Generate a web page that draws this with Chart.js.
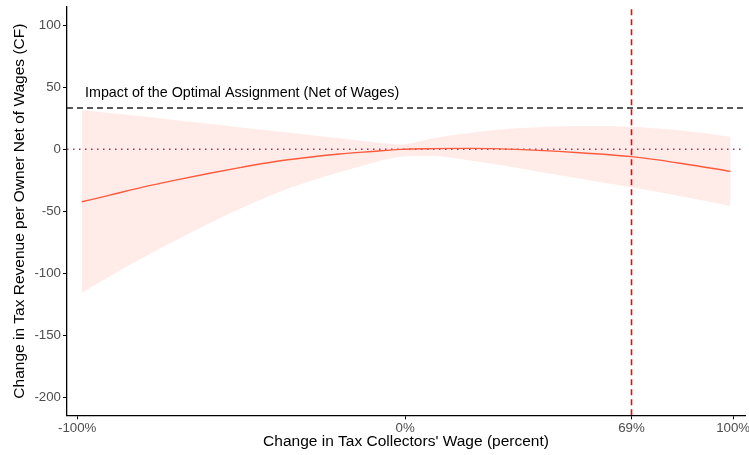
<!DOCTYPE html>
<html>
<head>
<meta charset="utf-8">
<script src="https://cdn.jsdelivr.net/npm/chart.js@4.4.1/dist/chart.umd.min.js"></script>
<style>
  html, body { margin: 0; padding: 0; background: #ffffff; }
  canvas { display: block; }
</style>
</head>
<body>
<canvas id="c" width="749" height="455"></canvas>
<script>
// ---- data ----
const wageChange = [-98.6, -90, -80, -70, -60, -50, -40, -30, -20, -10, -1.5, 8.6, 18.8, 29, 39, 54.3, 69, 84.8, 99.2];
const estimate   = [-42.3, -36.9, -30.5, -24.8, -19.5, -14.5, -10.0, -6.6, -3.8, -1.7, 0.0, 0.6, 0.8, 0.4, -0.6, -2.9, -5.9, -11.6, -17.8];
const upperCI    = [31.7, 29.3, 26.6, 23.5, 20.6, 17.7, 14.7, 11.8, 8.9, 5.9, 4.0, 8.9, 12.9, 16.1, 17.7, 18.8, 18.3, 15.0, 10.2];
const lowerCI    = [-115.6, -102.3, -87.5, -73.5, -60.0, -47.5, -36.0, -26.5, -18.5, -11.0, -6.0, -5.4, -8.6, -12.7, -17.2, -24.2, -30.6, -38.2, -45.7];
const optimalImpact = 33.3;       // dashed black reference
const zeroLine = 0;               // dotted reference
const optimalWage = 69;           // dashed red vertical
const annotationText = "Impact of the Optimal Assignment (Net of Wages)";
const annotationPos = { x: -97.6, y: 45 };
const xTicks = [-100, 0, 69, 100];
const yTicks = [-200, -150, -100, -50, 0, 50, 100];
const xRange = [-103.1, 103.6];
const yRange = [-214.5, 114.8];

const pts = (ys) => wageChange.map((x, i) => ({ x: x, y: ys[i] }));
const FONT = '"Liberation Sans", Arial, sans-serif';

const annotationPlugin = {
  id: 'annot',
  afterDatasetsDraw(chart) {
    const { ctx, scales } = chart;
    ctx.save();
    ctx.font = '14.3px ' + FONT;
    ctx.fillStyle = '#000000';
    ctx.textAlign = 'left';
    ctx.textBaseline = 'middle';
    ctx.fillText(annotationText, scales.x.getPixelForValue(annotationPos.x), scales.y.getPixelForValue(annotationPos.y));
    ctx.restore();
  }
};

new Chart(document.getElementById('c'), {
  type: 'line',
  data: {
    datasets: [
      { label: 'upper', data: pts(upperCI), borderWidth: 0, borderColor: 'rgba(0,0,0,0)', pointRadius: 0,
        backgroundColor: 'rgba(255,200,190,0.35)', fill: '+1', cubicInterpolationMode: 'monotone' },
      { label: 'lower', data: pts(lowerCI), borderWidth: 0, borderColor: 'rgba(0,0,0,0)', pointRadius: 0,
        fill: false, cubicInterpolationMode: 'monotone' },
      { label: 'vline', data: [{ x: optimalWage, y: yRange[0] }, { x: optimalWage, y: yRange[1] }],
        borderColor: '#FF0000', borderWidth: 1.6, borderDash: [6, 4], pointRadius: 0, fill: false },
      { label: 'estimate', data: pts(estimate), borderColor: '#FF5A3C', borderWidth: 1.4, pointRadius: 0,
        fill: false, cubicInterpolationMode: 'monotone' },
      { label: 'optimal', data: [{ x: xRange[0], y: optimalImpact }, { x: xRange[1], y: optimalImpact }],
        borderColor: '#222222', borderWidth: 1.6, borderDash: [6, 4], pointRadius: 0, fill: false },
      { label: 'zero', data: [{ x: xRange[0], y: zeroLine }, { x: xRange[1], y: zeroLine }],
        borderColor: '#A8305E', borderWidth: 1.5, borderDash: [1.5, 4.5], pointRadius: 0, fill: false }
    ]
  },
  options: {
    responsive: false,
    animation: false,
    events: [],
    layout: { padding: { top: 7, right: 4, bottom: 0, left: 0 } },
    plugins: {
      legend: { display: false },
      tooltip: { enabled: false },
      filler: { drawTime: 'beforeDatasetsDraw' }
    },
    scales: {
      x: {
        type: 'linear',
        min: xRange[0], max: xRange[1],
        afterBuildTicks: (s) => { s.ticks = xTicks.map(v => ({ value: v })); },
        afterFit: (s) => { s.height = 39.7; s.paddingLeft = 0; s.paddingRight = 0; },
        ticks: {
          callback: (v) => String(v) + '%',
          color: '#4D4D4D',
          font: { family: FONT, size: 13.3 },
          padding: 1,
          maxRotation: 0,
          autoSkip: false
        },
        grid: { drawOnChartArea: false, drawTicks: true, tickLength: 4, color: '#000000', lineWidth: 1 },
        border: { display: true, color: '#000000', width: 1.3 },
        title: {
          display: true,
          text: "Change in Tax Collectors' Wage (percent)",
          color: '#000000',
          font: { family: FONT, size: 15.5 },
          padding: { top: 0, bottom: 4 }
        }
      },
      y: {
        type: 'linear',
        min: yRange[0], max: yRange[1],
        afterBuildTicks: (s) => { s.ticks = yTicks.map(v => ({ value: v })); },
        afterFit: (s) => { s.width = 67; s.paddingTop = 0; s.paddingBottom = 0; },
        ticks: {
          callback: (v) => String(v),
          color: '#4D4D4D',
          font: { family: FONT, size: 13.3 },
          padding: 2,
          autoSkip: false
        },
        grid: { drawOnChartArea: false, drawTicks: true, tickLength: 4, color: '#000000', lineWidth: 1 },
        border: { display: true, color: '#000000', width: 1.3 },
        title: {
          display: true,
          text: 'Change in Tax Revenue per Owner Net of Wages (CF)',
          color: '#000000',
          font: { family: FONT, size: 15.5 },
          padding: { top: 10, bottom: 0 }
        }
      }
    }
  },
  plugins: [annotationPlugin]
});
</script>
</body>
</html>
